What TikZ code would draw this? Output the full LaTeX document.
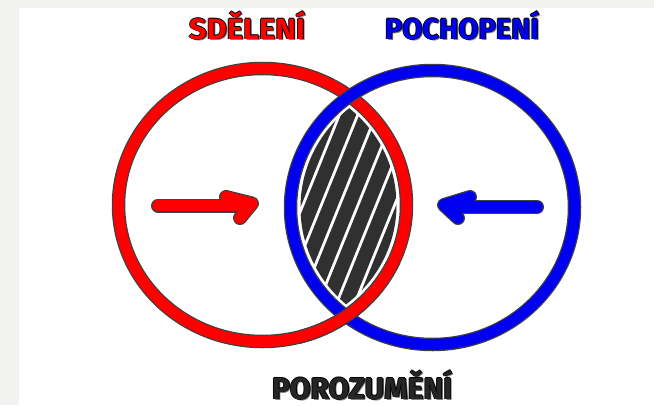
\documentclass[tikz,border=0pt]{standalone}
\usepackage{fontspec}
\setmainfont{Fira Sans}
\usepackage{graphicx}
\definecolor{bgray}{HTML}{F2F2F0}
\definecolor{cred}{HTML}{FF0000}
\definecolor{cblue}{HTML}{0000F0}
\definecolor{hatch}{HTML}{303030}
\definecolor{ink}{HTML}{262626}
\newcommand\cartword[3]{\resizebox{#1}{#2}{\bfseries #3}}
\newcommand\cartoon[4]{%
 \rlap{\kern1.6pt\raisebox{-1.6pt}{\textcolor{black!50}{\cartword{#1}{#2}{#4}}}}%
 \rlap{\kern-0.9pt\textcolor{black}{\cartword{#1}{#2}{#4}}}%
 \rlap{\kern0.9pt\textcolor{black}{\cartword{#1}{#2}{#4}}}%
 \rlap{\raisebox{0.9pt}{\textcolor{black}{\cartword{#1}{#2}{#4}}}}%
 \rlap{\raisebox{-0.9pt}{\textcolor{black}{\cartword{#1}{#2}{#4}}}}%
 \textcolor{#3}{\cartword{#1}{#2}{#4}}}
\begin{document}
\begin{tikzpicture}[x=1pt,y=-1pt,
  outl/.style={draw=black!75,line width=13.5pt},
  ring/.style={line width=11pt},
  arrowout/.style={draw=black!75,line width=14pt,line cap=round,line join=round},
  arrowin/.style={line width=11.5pt,line cap=round,line join=round},
  hatchline/.style={draw=hatch,line width=14pt,line cap=round},
  title/.style={inner sep=0pt,anchor=base}]
\fill[bgray] (0,0) rectangle (654,405);
\fill[white] (19,8) rectangle (654,405);
\useasboundingbox (0,0) rectangle (654,405);

% hatched lens
\begin{scope}
  \clip (262.5,205) ellipse [x radius=134pt, y radius=127pt];
  \clip (432.5,207.5) ellipse [x radius=132pt, y radius=128pt];
  \foreach \i in {-6,...,6}
    \draw[hatchline] ({348+\i*15.76-56.2},{207+\i*6.375+139}) -- ({348+\i*15.76+56.2},{207+\i*6.375-139});
\end{scope}

% red circle
\draw[outl] (262.5,205) ellipse [x radius=144pt, y radius=136.5pt];
\draw[ring,cred] (262.5,205) ellipse [x radius=144pt, y radius=136.5pt];
% blue circle
\draw[outl] (432.5,207.5) ellipse [x radius=142pt, y radius=137pt];
\draw[ring,cblue] (432.5,207.5) ellipse [x radius=142pt, y radius=137pt];
% red over blue at the bottom crossing
\begin{scope}
  \clip (300,262) rectangle (400,365);
  \draw[outl] (262.5,205) ellipse [x radius=144pt, y radius=136.5pt];
  \draw[ring,cred] (262.5,205) ellipse [x radius=144pt, y radius=136.5pt];
\end{scope}

% arrows
\draw[arrowout] (158,205.5) -- (236,205.5);
\draw[arrowout] (226,197) -- (252,203.5) -- (240,218);
\draw[arrowin,cred] (158,205.5) -- (236,205.5);
\draw[arrowin,cred] (226,197) -- (252,203.5) -- (240,218);

\draw[arrowout] (537,207) -- (462,207);
\draw[arrowout] (470,197) -- (444,205) -- (458,218);
\draw[arrowin,cblue] (537,207) -- (462,207);
\draw[arrowin,cblue] (470,197) -- (444,205) -- (458,218);

% titles
\node[title] (sdeleni) at (247,39) {\cartoon{116pt}{28pt}{cred}{SDĚLENÍ}};
\node[title] (pochopeni) at (462,39) {\cartoon{154pt}{28pt}{cblue}{POCHOPENÍ}};
\node[title] (porozumeni) at (362,399) {\cartoon{180pt}{29pt}{ink}{POROZUMĚNÍ}};
\end{tikzpicture}
\end{document}
